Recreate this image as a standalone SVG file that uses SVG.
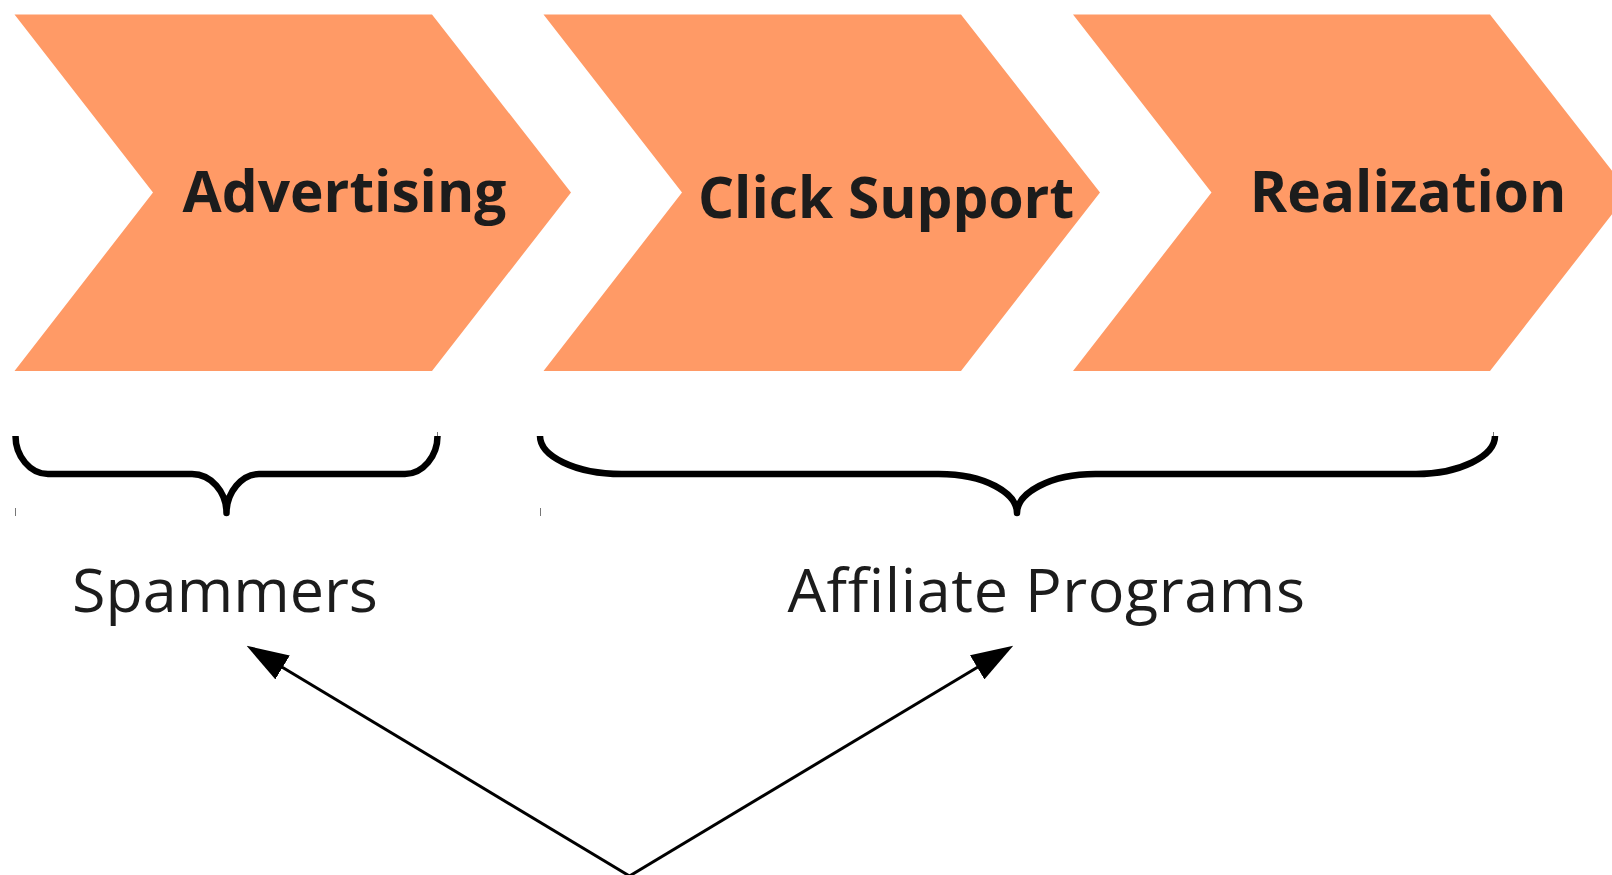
<svg xmlns="http://www.w3.org/2000/svg" width="1612" height="875" viewBox="0 0 1612 875">
  <defs>
    <style>
      .stage { fill: #FF9A66; }
      .stage-label { font-family: "Open Sans", "Liberation Sans", sans-serif; font-weight: 700; font-size: 56.8px; fill: #1c1c1c; text-anchor: middle; }
      .group-label { font-family: "Open Sans", "Liberation Sans", sans-serif; font-weight: 400; font-size: 61px; fill: #1c1c1c; text-anchor: middle; }
      .brace { fill: none; stroke: #000; stroke-width: 6.5; stroke-linecap: butt; stroke-linejoin: round; }
      .tick { stroke: #777; stroke-width: 1; }
      .arrow { fill: none; stroke: #000; stroke-width: 3; }
    </style>
    <marker id="head" markerUnits="userSpaceOnUse" markerWidth="42" markerHeight="28" refX="12" refY="14" orient="auto" viewBox="0 0 42 28">
      <path d="M0,0 L42,14 L0,28 z" fill="#000"/>
    </marker>
  </defs>

  <!-- process stages -->
  <g id="stage-advertising">
    <polygon class="stage" points="14.5,14.5 432,14.5 571,192.5 432,371 14.5,371 153,192.5"/>
    <text class="stage-label" x="344.5" y="212">Advertising</text>
  </g>
  <g id="stage-click-support">
    <polygon class="stage" points="543.5,14.5 961,14.5 1100,192.5 961,371 543.5,371 682,192.5"/>
    <text class="stage-label" x="886" y="218">Click Support</text>
  </g>
  <g id="stage-realization">
    <polygon class="stage" points="1073,14.5 1490,14.5 1629,192.5 1490,371 1073,371 1211.5,192.5"/>
    <text class="stage-label" x="1408" y="212">Realization</text>
  </g>

  <!-- braces grouping the stages -->
  <g id="brace-spammers">
    <path class="brace" d="M15.5,436 C15.5,456 30,474 48,474 L192,474 C211,474 226.5,492 226.5,513 C226.5,492 242,474 259,474 L405,474 C423,474 437.5,456 437.5,436"/>
    <line class="tick" x1="15.5" y1="508" x2="15.5" y2="516"/>
    <line class="tick" x1="437.5" y1="432" x2="437.5" y2="436"/>
  </g>
  <g id="brace-affiliates">
    <path class="brace" d="M540,436 C540,456 575,474 621.6,474 L938.7,474 C985,474 1017,493 1017,513 C1017,493 1050,474 1095.5,474 L1416,474 C1460,474 1495,456 1495,436"/>
    <line class="tick" x1="540.5" y1="508" x2="540.5" y2="516"/>
    <line class="tick" x1="1493.5" y1="432" x2="1493.5" y2="436"/>
  </g>

  <!-- group labels -->
  <g id="label-spammers">
    <text class="group-label" x="225" y="612">Spammers</text>
  </g>
  <g id="label-affiliates">
    <text class="group-label" x="1046.5" y="612" letter-spacing="0.6">Affiliate Programs</text>
  </g>

  <!-- connectors -->
  <g id="connectors">
    <line class="arrow" x1="629.5" y1="876" x2="272.3" y2="661.2" marker-end="url(#head)"/>
    <line class="arrow" x1="629.5" y1="876" x2="987.5" y2="661.2" marker-end="url(#head)"/>
  </g>
</svg>
